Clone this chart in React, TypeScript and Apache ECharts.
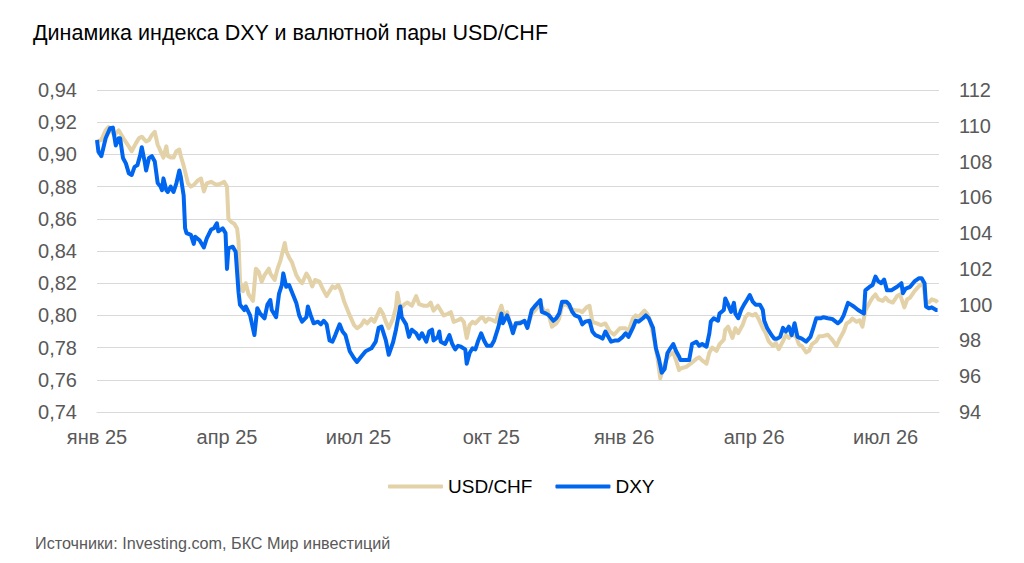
import React, { useEffect, useRef } from "react";
import * as echarts from "echarts";

// x values are days counted from 1 January 2025
const START_YEAR = 2025;
const MONTHS = ["янв", "фев", "мар", "апр", "май", "июн", "июл", "авг", "сен", "окт", "ноя", "дек"];
const LAST_DAY = 583;

const TITLE = "Динамика индекса DXY и валютной пары USD/CHF";
const SOURCE = "Источники: Investing.com, БКС Мир инвестиций";
const SERIES_NAMES = ["USD/CHF", "DXY"];

// USD/CHF, left axis: [day, value]
const usdChf: [number, number][] = [
  [0,0.908],[3,0.909],[6,0.915],[8,0.917],[12,0.912],[15,0.915],[19,0.909],[22,0.905],[24,0.902],[27,0.907],
  [29,0.910],[31,0.911],[34,0.908],[36,0.909],[38,0.912],[40,0.914],[42,0.906],[44,0.902],[46,0.898],[48,0.905],
  [49,0.899],[51,0.898],[53,0.898],[55,0.902],[57,0.903],[58,0.899],[60,0.893],[63,0.882],[65,0.880],[67,0.881],
  [70,0.884],[72,0.885],[74,0.877],[76,0.882],[79,0.883],[81,0.882],[83,0.881],[86,0.882],[88,0.883],[90,0.880],
  [91,0.860],[93,0.858],[95,0.857],[97,0.854],[98,0.846],[99,0.821],[101,0.815],[103,0.820],[105,0.813],[108,0.809],
  [110,0.829],[112,0.827],[114,0.821],[116,0.825],[119,0.829],[120,0.826],[123,0.822],[125,0.829],[127,0.834],[130,0.845],
  [131,0.840],[133,0.836],[135,0.833],[138,0.825],[140,0.822],[142,0.820],[145,0.826],[147,0.823],[149,0.818],[151,0.822],
  [154,0.821],[156,0.817],[159,0.812],[161,0.815],[163,0.818],[165,0.817],[167,0.819],[169,0.815],[171,0.809],[175,0.800],
  [178,0.794],[180,0.792],[183,0.794],[185,0.797],[187,0.795],[190,0.798],[192,0.796],[194,0.800],[196,0.804],[198,0.801],
  [200,0.796],[202,0.792],[205,0.798],[207,0.805],[208,0.814],[210,0.804],[213,0.807],[215,0.808],[218,0.806],[221,0.812],
  [223,0.807],[226,0.806],[229,0.806],[231,0.808],[233,0.803],[236,0.806],[238,0.803],[240,0.800],[243,0.801],[245,0.802],
  [247,0.796],[250,0.797],[252,0.798],[254,0.796],[256,0.786],[258,0.794],[260,0.796],[262,0.795],[265,0.798],[267,0.799],
  [269,0.796],[271,0.798],[274,0.797],[276,0.796],[278,0.801],[280,0.806],[282,0.799],[284,0.802],[286,0.795],[289,0.792],
  [291,0.795],[293,0.796],[296,0.796],[298,0.793],[301,0.801],[303,0.803],[305,0.805],[307,0.807],[310,0.802],[312,0.803],
  [315,0.793],[318,0.795],[320,0.798],[322,0.806],[325,0.807],[328,0.804],[332,0.803],[334,0.803],[336,0.802],[339,0.805],
  [341,0.806],[343,0.796],[346,0.795],[349,0.794],[352,0.795],[355,0.790],[358,0.788],[360,0.790],[362,0.792],[366,0.792],
  [368,0.790],[371,0.798],[373,0.800],[375,0.799],[379,0.803],[381,0.801],[383,0.797],[386,0.784],[388,0.774],[390,0.761],
  [392,0.767],[394,0.772],[396,0.775],[399,0.777],[401,0.772],[403,0.766],[404,0.767],[408,0.768],[411,0.770],[415,0.773],
  [417,0.774],[419,0.772],[422,0.770],[424,0.777],[426,0.780],[429,0.778],[431,0.782],[434,0.785],[435,0.791],[437,0.793],
  [440,0.786],[442,0.792],[444,0.789],[447,0.794],[449,0.799],[451,0.801],[454,0.800],[456,0.801],[458,0.798],[461,0.792],
  [463,0.789],[465,0.784],[468,0.781],[470,0.783],[472,0.779],[475,0.784],[477,0.788],[479,0.786],[481,0.788],[484,0.787],
  [486,0.782],[488,0.781],[491,0.777],[493,0.778],[495,0.782],[498,0.784],[500,0.787],[502,0.787],[506,0.788],[509,0.785],
  [512,0.781],[514,0.785],[517,0.790],[519,0.795],[521,0.796],[523,0.798],[526,0.796],[528,0.797],[530,0.793],[532,0.803],
  [535,0.808],[537,0.811],[539,0.813],[541,0.810],[544,0.809],[546,0.811],[548,0.809],[551,0.808],[554,0.812],[556,0.813],
  [559,0.805],[561,0.810],[563,0.811],[566,0.815],[569,0.818],[572,0.820],[574,0.808],[576,0.808],[578,0.810],[581,0.809],
  [582,0.808]
];

// DXY, right axis: [day, value]
const dxy: [number, number][] = [
  [0,109.2],[1,108.55],[3,108.3],[6,109.3],[9,109.86],[11,109.9],[13,108.9],[15,109.3],[16,109.3],[18,108.2],
  [20,107.9],[22,107.35],[24,107.25],[26,107.7],[28,107.8],[30,108.4],[31,108.8],[33,108.0],[34,107.5],[36,108.2],
  [38,108.3],[40,108.0],[42,106.8],[44,106.6],[45,106.4],[46,107.06],[48,106.4],[49,106.3],[51,106.6],[53,106.3],
  [55,106.8],[57,107.5],[58,107.15],[60,106.1],[61,104.27],[62,104.0],[65,103.9],[67,103.4],[68,103.8],[71,103.6],
  [74,103.2],[76,103.7],[79,104.2],[81,104.27],[83,104.55],[84,104.1],[87,104.27],[89,104.0],[90,102.0],[91,103.15],
  [94,103.24],[96,102.96],[98,100.7],[99,100.0],[102,99.7],[103,99.9],[106,99.4],[109,98.3],[111,99.8],[113,99.5],
  [116,99.24],[118,100.0],[120,100.26],[121,99.7],[124,99.3],[126,100.6],[128,101.1],[129,101.75],[131,101.0],[133,101.1],
  [135,100.7],[138,100.1],[140,99.4],[142,99.05],[145,99.3],[146,99.9],[148,99.4],[150,98.96],[153,99.05],[155,98.9],
  [157,99.1],[159,98.9],[161,98.0],[163,97.93],[165,98.3],[168,98.9],[170,98.5],[172,98.3],[175,97.4],[178,97.0],
  [180,96.8],[183,97.1],[186,97.4],[190,97.56],[193,97.93],[195,98.7],[197,98.77],[200,98.0],[202,97.2],[205,97.9],
  [207,98.6],[210,99.9],[211,99.3],[214,98.9],[216,98.2],[218,98.6],[221,98.4],[223,98.1],[225,98.4],[228,97.93],
  [230,98.5],[232,98.6],[233,98.0],[236,98.2],[237,98.5],[238,97.93],[241,97.8],[244,98.3],[246,97.8],[248,97.5],
  [250,97.7],[252,97.65],[255,97.5],[256,96.7],[258,97.3],[260,97.56],[262,97.5],[264,98.0],[266,98.4],[268,98.0],
  [270,97.7],[273,97.7],[275,98.0],[278,98.77],[280,99.5],[281,98.96],[284,99.4],[286,98.96],[288,98.4],[290,98.96],
  [293,98.96],[296,99.1],[298,98.7],[301,99.7],[303,99.9],[307,100.26],[308,99.6],[311,99.5],[313,99.4],[316,99.1],
  [318,99.24],[320,99.5],[322,100.17],[325,100.17],[327,100.0],[329,99.6],[331,99.4],[334,99.3],[336,98.9],[338,99.05],
  [341,99.1],[343,98.5],[345,98.3],[348,98.2],[350,98.1],[352,98.5],[356,97.93],[359,98.0],[361,98.0],[364,98.2],
  [366,98.4],[368,98.2],[371,98.7],[373,99.1],[375,99.05],[378,99.24],[380,99.4],[382,99.24],[385,98.7],[387,97.56],
  [389,97.0],[391,96.2],[393,96.4],[395,97.3],[397,97.56],[399,97.8],[401,97.4],[403,97.1],[404,96.9],[408,96.9],
  [410,96.9],[412,97.8],[415,97.93],[417,97.7],[419,97.8],[422,97.65],[424,98.4],[425,99.05],[427,99.24],[430,99.1],
  [431,99.5],[434,99.7],[435,100.35],[437,100.0],[439,99.6],[441,100.1],[442,99.5],[444,99.24],[446,99.7],[448,100.0],
  [450,100.26],[452,100.54],[454,100.17],[456,100.0],[459,100.0],[461,99.7],[462,99.1],[464,98.7],[467,98.3],[469,98.1],
  [471,98.1],[473,98.2],[475,98.7],[477,98.5],[479,98.77],[481,98.3],[483,98.96],[485,98.2],[488,98.1],[491,97.93],
  [494,98.2],[496,98.7],[498,99.24],[501,99.24],[503,99.3],[506,99.24],[509,99.2],[513,98.96],[515,99.1],[517,99.4],
  [520,100.1],[522,100.0],[524,99.9],[527,99.7],[529,99.6],[531,99.5],[532,100.8],[535,101.0],[537,101.1],[539,101.57],
  [541,101.3],[543,101.2],[545,101.4],[547,100.8],[550,100.8],[552,100.9],[554,101.0],[557,101.2],[558,100.64],[560,100.9],
  [563,101.0],[566,101.3],[569,101.47],[571,101.47],[573,101.2],[574,99.9],[576,99.8],[578,99.85],[581,99.7],[582,99.7]
];

const FONT = "'Liberation Sans', Arial, sans-serif";
const GREY = "#595959";
const DAY_MS = 86400000;

function toTime(day: number): number {
  return new Date(START_YEAR, 0, 1 + day).getTime();
}

export default function App() {
  const ref = useRef<HTMLDivElement>(null);

  useEffect(() => {
    document.body.style.margin = "0";
    if (!ref.current) return;
    const chart = echarts.init(ref.current, undefined, { renderer: "svg" });
    chart.setOption({
      animation: false,
      backgroundColor: "#ffffff",
      textStyle: { fontFamily: FONT },
      title: [
        {
          text: TITLE,
          left: 33,
          top: 22,
          padding: 0,
          textStyle: { fontFamily: FONT, fontSize: 21.5, fontWeight: "normal", color: "#000000" },
        },
        {
          text: SOURCE,
          left: 35,
          top: 535,
          padding: 0,
          textStyle: { fontFamily: FONT, fontSize: 16.2, fontWeight: "normal", color: GREY },
        },
      ],
      legend: {
        data: SERIES_NAMES,
        left: 388,
        top: 477,
        padding: 0,
        icon: "roundRect",
        itemWidth: 55,
        itemHeight: 4,
        itemGap: 23,
        textStyle: { fontFamily: FONT, fontSize: 19, color: "#000000" },
      },
      grid: { left: 97, right: 85, top: 90, bottom: 151 },
      xAxis: {
        type: "time",
        min: toTime(0),
        max: toTime(LAST_DAY),
        minInterval: 85 * DAY_MS,
        maxInterval: 95 * DAY_MS,
        axisLine: { show: true, lineStyle: { color: "#d9d9d9" } },
        axisTick: { show: false },
        splitLine: { show: false },
        axisLabel: {
          color: GREY,
          fontFamily: FONT,
          fontSize: 20,
          margin: 15,
          formatter: (v: number) => {
            const d = new Date(v);
            return MONTHS[d.getMonth()] + " " + String(d.getFullYear()).slice(2);
          },
        },
      },
      yAxis: [
        {
          type: "value",
          position: "left",
          min: 0.74,
          max: 0.94,
          interval: 0.02,
          axisLine: { show: false },
          axisTick: { show: false },
          splitLine: { lineStyle: { color: "#d9d9d9", width: 1 } },
          axisLabel: {
            color: GREY,
            fontFamily: FONT,
            fontSize: 20,
            margin: 20,
            formatter: (v: number) => v.toFixed(2).replace(".", ","),
          },
        },
        {
          type: "value",
          position: "right",
          min: 94,
          max: 112,
          interval: 2,
          axisLine: { show: false },
          axisTick: { show: false },
          splitLine: { show: false },
          axisLabel: { color: GREY, fontFamily: FONT, fontSize: 20, margin: 20 },
        },
      ],
      series: [
        {
          name: SERIES_NAMES[0],
          type: "line",
          yAxisIndex: 0,
          showSymbol: false,
          symbol: "none",
          color: "#E3D1A8",
          lineStyle: { color: "#E3D1A8", width: 4, join: "round" },
          data: usdChf.map(([d, v]) => [toTime(d), v]),
          z: 2,
        },
        {
          name: SERIES_NAMES[1],
          type: "line",
          yAxisIndex: 1,
          showSymbol: false,
          symbol: "none",
          color: "#0066F0",
          lineStyle: { color: "#0066F0", width: 4, join: "round" },
          data: dxy.map(([d, v]) => [toTime(d), v]),
          z: 3,
        },
      ],
    });
    return () => chart.dispose();
  }, []);

  return <div ref={ref} style={{ width: 1024, height: 563, background: "#fff" }} />;
}
